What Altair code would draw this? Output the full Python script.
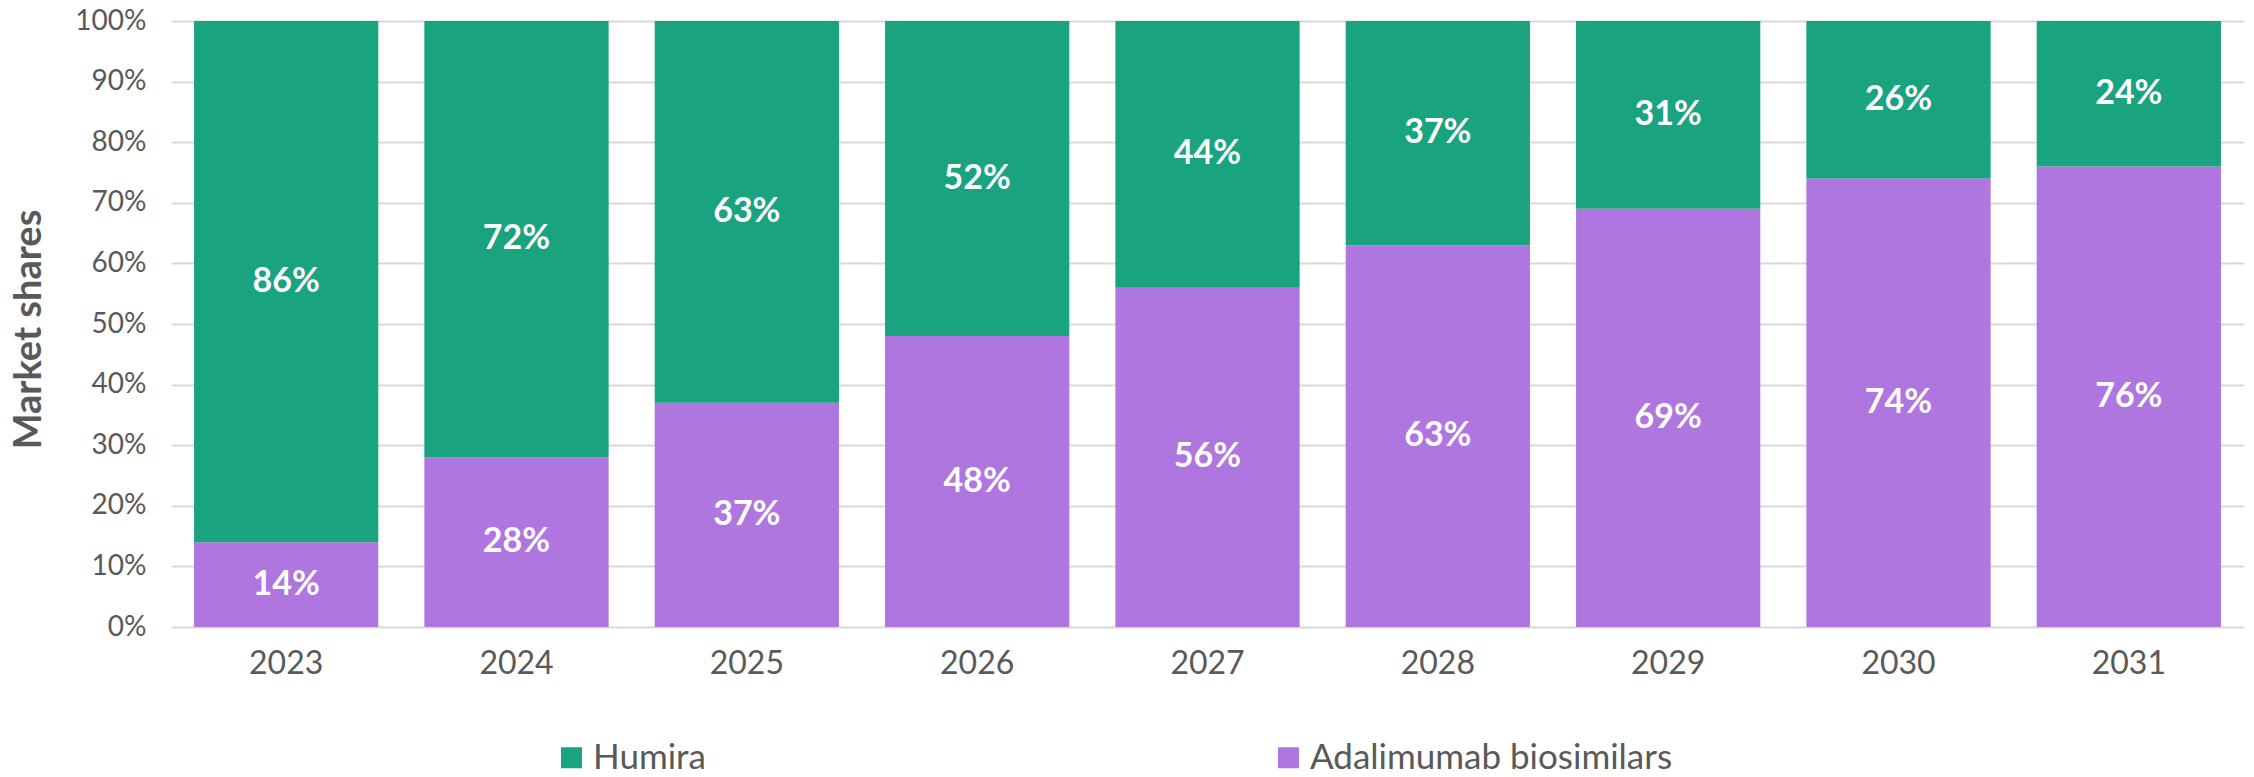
import altair as alt
import pandas as pd

years = ["2023", "2024", "2025", "2026", "2027", "2028", "2029", "2030", "2031"]
humira = [86, 72, 63, 52, 44, 37, 31, 26, 24]
biosimilars = [14, 28, 37, 48, 56, 63, 69, 74, 76]
series = ["Humira", "Adalimumab biosimilars"]
colors = ["#1aa37f", "#b076e0"]
y_ticks = [0, 10, 20, 30, 40, 50, 60, 70, 80, 90, 100]

rows = []
for i, yr in enumerate(years):
    rows.append({"year": yr, "series": series[1], "value": biosimilars[i], "ord": 0})
    rows.append({"year": yr, "series": series[0], "value": humira[i], "ord": 1})
df = pd.DataFrame(rows)

FONT = "Lato"
GRAY = "#595959"

base = alt.Chart(df).transform_stack(
    stack="value", as_=["v0", "v1"], groupby=["year"],
    sort=[alt.SortField("ord", order="ascending")]
).transform_calculate(mid="(datum.v0 + datum.v1) / 2", lbl="datum.value + '%'")

xenc = alt.X("year:N", sort=years,
             scale=alt.Scale(paddingInner=0.2, paddingOuter=0.1),
             axis=alt.Axis(title=None, labelFontSize=32, labelColor=GRAY, labelFont=FONT,
                           ticks=False, domain=False, labelPadding=21, labelAngle=0))

bars = base.mark_bar().encode(
    x=xenc,
    y=alt.Y("v0:Q", scale=alt.Scale(domain=[0, 100], nice=False),
            axis=alt.Axis(values=y_ticks, labelExpr="datum.value + '%'", title="Market shares",
                          labelFontSize=28, labelColor=GRAY, labelFont=FONT, labelPadding=25,
                          ticks=False, domain=False, gridColor="#d9d9d9", gridWidth=2,
                          titleFont=FONT, titleFontSize=38, titleFontWeight="bold", titleColor=GRAY,
                          titleX=-131, titleY=308, titleBaseline="alphabetic", titleAngle=270,
                          titleAlign="center")),
    y2="v1:Q",
    color=alt.Color("series:N", scale=alt.Scale(domain=series, range=colors),
                    legend=alt.Legend(title=None, orient="none", legendX=383, legendY=719,
                                      direction="horizontal", symbolType="square", symbolSize=441,
                                      symbolStrokeWidth=0, labelFontSize=35, labelFont=FONT,
                                      labelColor=GRAY, labelOffset=4, columnPadding=565,
                                      labelLimit=800, padding=0)),
)

labels = base.mark_text(color="white", fontSize=34, fontWeight="bold", font=FONT,
                        baseline="middle").encode(
    x=alt.X("year:N", sort=years),
    y=alt.Y("mid:Q"),
    text=alt.Text("lbl:N"),
)

chart = alt.layer(bars, labels).properties(
    width=2073, height=606,
    padding={"left": 171, "top": 21, "right": 10, "bottom": 150},
    autosize=alt.AutoSizeParams(type="none"),
).configure_view(stroke=None)

chart.save("out.html", embed_options={"renderer": "svg", "actions": False})
